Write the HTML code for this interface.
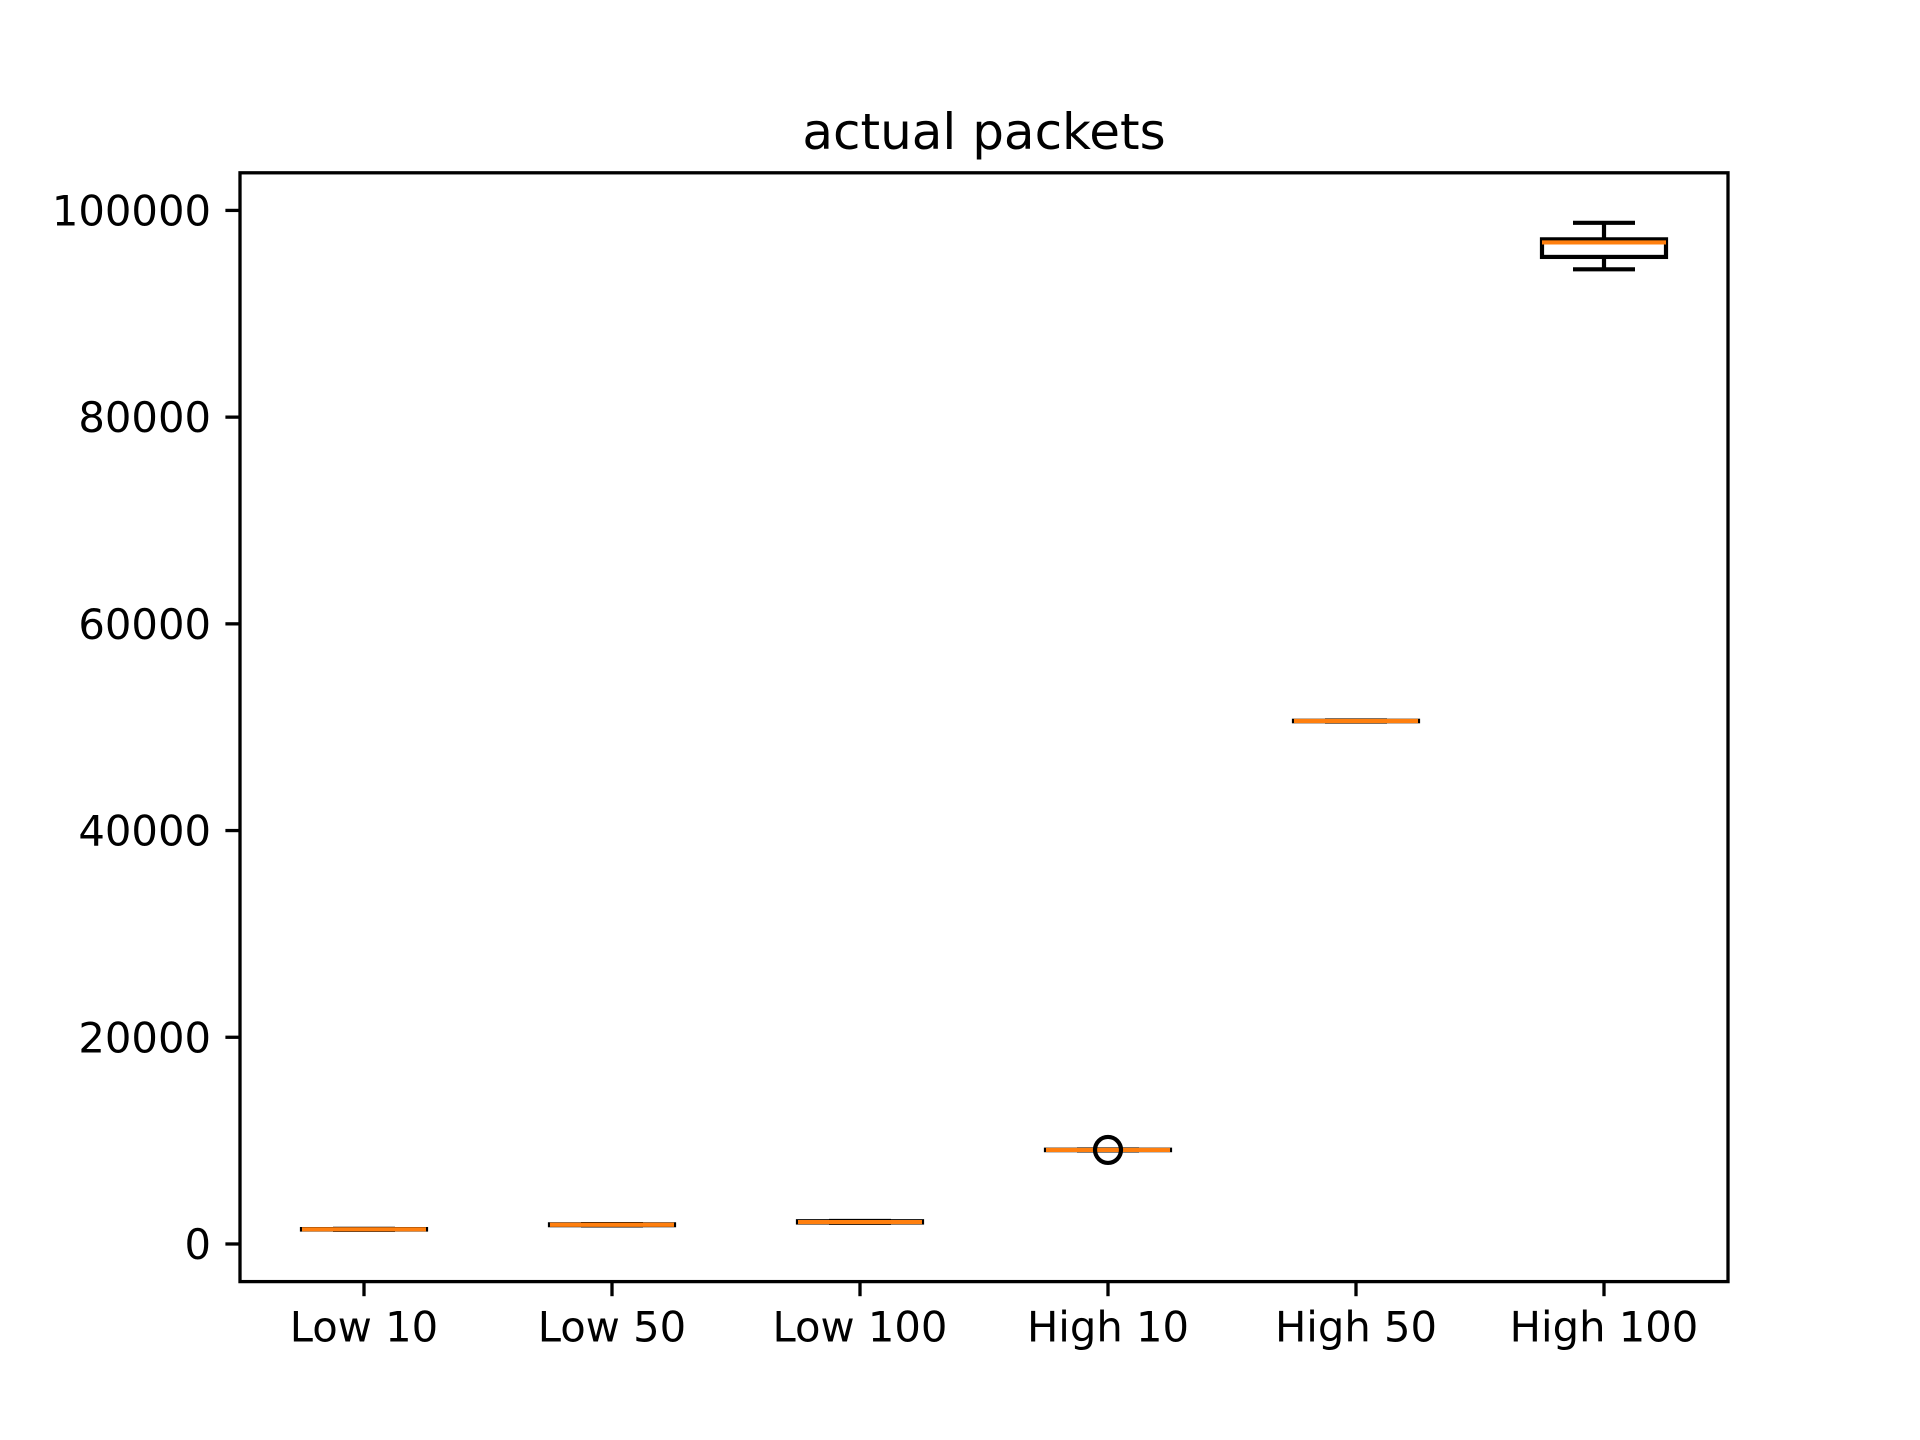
<!DOCTYPE html>
<html><head><meta charset="utf-8"><style>
html,body{margin:0;padding:0;background:#fff}
svg{display:block;font-family:"DejaVu Sans","Liberation Sans",sans-serif}
</style></head><body>
<svg id="chart" width="1920" height="1440" viewBox="0 0 1920 1440">
<text x="984" y="149" font-size="50" text-anchor="middle">actual packets</text>
<g id="plot"></g>
<rect x="240" y="172.8" width="1488" height="1108.8" fill="none" stroke="#000" stroke-width="3.3"/>
</svg>
<script>
const categories = ["Low 10","Low 50","Low 100","High 10","High 50","High 100"];
const whiskerLow = [1380, 1800, 2050, 9050, 50550, 94300];
const q1Values = [1400, 1820, 2080, 9080, 50580, 95500];
const medians = [1420, 1860, 2120, 9100, 50600, 96900];
const q3Values = [1440, 1900, 2200, 9120, 50620, 97200];
const whiskerHigh = [1460, 1920, 2220, 9140, 50650, 98800];
const outliers = [[], [], [], [9100], [], []];
const yTicks = [0, 20000, 40000, 60000, 80000, 100000];

const L=240,R=1728,T=172.8,B=1281.6, yMin=-3640, yMax=103640;
const NS="http://www.w3.org/2000/svg";
const g=document.getElementById('plot');
function yS(v){return B-(v-yMin)/(yMax-yMin)*(B-T);}
function xS(i){return L+(i+0.5)*(R-L)/categories.length;}
function mk(tag,attrs,parent){const e=document.createElementNS(NS,tag);for(const k in attrs)e.setAttribute(k,attrs[k]);(parent||g).appendChild(e);return e;}
const hw=(R-L)/categories.length*0.25;
yTicks.forEach(v=>{
  const y=yS(v);
  const t=mk('line',{x1:L-14.6,x2:L,y1:y,y2:y,stroke:'#000','stroke-width':3.3});
  
  
  const tx=mk('text',{x:L-29,y:y+15,'font-size':41.7,'text-anchor':'end'});
  tx.textContent=v;
  
  
});
categories.forEach((c,i)=>{
  const x=xS(i);
  const t=mk('line',{x1:x,x2:x,y1:B,y2:B+14.6,stroke:'#000','stroke-width':3.3});
  
  
  const tx=mk('text',{x:x,y:B+60,'font-size':41.7,'text-anchor':'middle'});
  tx.textContent=c;
  
  
  const grp=mk('g',{});
  
  
  const s={stroke:'#000','stroke-width':4.2,fill:'none'};
  mk('line',Object.assign({x1:x,x2:x,y1:yS(q3Values[i]),y2:yS(whiskerHigh[i])},s),grp);
  mk('line',Object.assign({x1:x,x2:x,y1:yS(q1Values[i]),y2:yS(whiskerLow[i])},s),grp);
  mk('line',Object.assign({x1:x-hw/2,x2:x+hw/2,y1:yS(whiskerHigh[i]),y2:yS(whiskerHigh[i])},s),grp);
  mk('line',Object.assign({x1:x-hw/2,x2:x+hw/2,y1:yS(whiskerLow[i]),y2:yS(whiskerLow[i])},s),grp);
  mk('rect',Object.assign({x:x-hw,y:yS(q3Values[i]),width:2*hw,height:yS(q1Values[i])-yS(q3Values[i])},s),grp);
  mk('line',{x1:x-hw,x2:x+hw,y1:yS(medians[i]),y2:yS(medians[i]),stroke:'#ff7f0e','stroke-width':4.2},grp);
  outliers[i].forEach(o=>{
    const c2=mk('circle',{cx:x,cy:yS(o),r:13,fill:'none',stroke:'#000','stroke-width':4.2},grp);
    
    
  });
});
</script>
</body></html>
